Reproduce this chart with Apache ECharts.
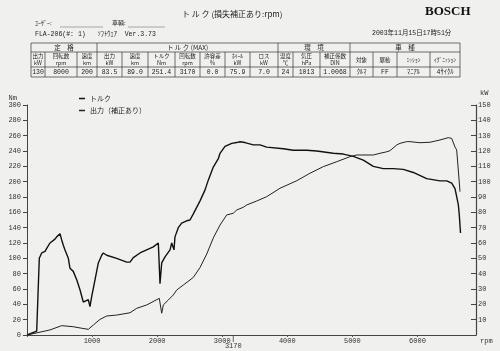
<!DOCTYPE html>
<html>
<head>
<meta charset="utf-8">
<script src="https://cdn.jsdelivr.net/npm/echarts@6/dist/echarts.min.js"></script>
<style>
    html, body { margin: 0; padding: 0; background: #f0f0ee; }
    #dynoChart { width: 500px; height: 351px; }
</style>
</head>
<body>
<div id="dynoChart"></div>
<script>
// torque curve (rpm / Nm)
const torqueRpm = [0, 149, 174, 189, 226, 277, 303, 353, 380, 430, 456, 481, 507, 533, 558, 584, 635, 661, 711, 764, 814, 865, 891, 942, 968, 994, 1045, 1096, 1148, 1172, 1225, 1378, 1532, 1583, 1634, 1737, 1813, 1941, 2018, 2044, 2070, 2121, 2198, 2224, 2259, 2274, 2325, 2377, 2454, 2505, 2556, 2659, 2735, 2786, 2863, 2940, 2966, 3043, 3146, 3222, 3273, 3350, 3478, 3581, 3683, 3939, 4092, 4298, 4452, 4707, 4861, 5014, 5168, 5322, 5475, 5629, 5783, 5936, 6142, 6347, 6450, 6527, 6577, 6592, 6628, 6643, 6662];
const torqueNm = [0, 5, 7, 100, 107, 109, 113, 120, 119, 125, 128, 130, 132, 124, 117, 111, 100, 87, 83, 72, 59, 43, 41, 46, 37, 50, 72, 94, 104, 107, 104, 100, 95, 95, 101, 107, 110, 115, 120, 67, 94, 102, 111, 120, 111, 128, 140, 146, 149, 150, 158, 175, 189, 202, 219, 230, 237, 246, 250, 251, 252, 251, 248, 248, 245, 243, 241, 241, 240, 237, 236, 233, 228, 220, 217, 217, 216, 212, 204, 201, 201, 198, 191, 185, 170, 157, 133];

// power curve, corrected (rpm / kW)
const powerRpm = [0, 353, 533, 558, 711, 841, 942, 968, 1019, 1122, 1225, 1378, 1583, 1686, 1840, 2033, 2070, 2095, 2171, 2248, 2300, 2402, 2505, 2556, 2659, 2762, 2863, 2966, 3069, 3170, 3222, 3324, 3376, 3530, 3683, 3888, 4145, 4349, 4554, 4759, 4963, 5067, 5322, 5425, 5528, 5578, 5681, 5732, 5835, 5886, 6039, 6193, 6347, 6474, 6527, 6554, 6577, 6603, 6628, 6654];
const powerKw = [0, 3.3, 6.1, 5.9, 5.4, 4.4, 3.7, 3.3, 6.5, 10.2, 12.4, 13.0, 14.5, 17.4, 19.6, 23.9, 14.2, 19.6, 22.8, 26.1, 29.3, 32.6, 35.9, 37.6, 44.0, 52.8, 63.3, 71.7, 78.3, 79.4, 81.5, 83.3, 84.8, 87.4, 90.2, 95.7, 100.6, 105.5, 109.8, 113.0, 116.3, 117.4, 117.4, 118.5, 119.5, 120.2, 123.9, 125.0, 126.1, 126.1, 125.4, 125.7, 127.2, 128.7, 128.2, 127.2, 122.6, 120.7, 107.6, 93.5];

const seriesNames = ["トルク", "出力（補正あり）"];
const maxTorqueRpm = 3170;

// header table
const groupNames = ["定　格", "ト ル ク (MAX)", "環　境", "車　種"];
const groupSpans = [3, 7, 3, 4];
const colHeads = ["出力\nkW", "回転数\nrpm", "速度\nkm", "出力\nkW", "速度\nkm", "トルク\nNm", "回転数\nrpm", "許容差\n%", "ﾎｲｰﾙ\nkW", "ロス\nkW", "温度\n℃", "気圧\nhPa", "補正係数\nDIN", "対象", "駆動", "ﾐｯｼｮﾝ", "ｲｸﾞﾆｯｼｮﾝ"];
const colValues = ["130", "8000", "200", "83.5", "89.0", "251.4", "3170", "0.0", "75.9", "7.0", "24", "1013", "1.0068", "ｸﾙﾏ", "FF", "ﾏﾆｱﾙ", "4ｻｲｸﾙ"];

const titleText = "ト ル ク (損失補正あり:rpm)";
const brandText = "BOSCH";
const dateText = "2003年11月15日17時51分";
const machineText = "FLA-206(#: 1)   ｿﾌﾄｳｪｱ  Ver.3.73";

const mono = "'Liberation Mono', 'Noto Sans CJK JP', monospace";
const jp = "'Noto Sans CJK JP', sans-serif";

const colEdges = [31, 45, 77, 97, 122, 148, 175, 200, 225, 250, 278, 293, 320, 350, 373, 397, 430, 460];
const rowEdges = [43, 52, 67, 77];

function buildHeader() {
    let els = [];
    let txt = (x, y, text, size, opts) => Object.assign({
        type: "text", x: x, y: y, silent: true,
        style: Object.assign({ text: text, fontSize: size, fontFamily: jp, fill: "#222", align: "left", verticalAlign: "middle" }, opts || {})
    });
    els.push(txt(182, 14, titleText, 8));
    els.push(txt(425, 12, brandText, 13, { fontFamily: "'Liberation Serif', serif", fontWeight: "bold", fill: "#111" }));
    els.push(txt(35, 23, "ﾕｰｻﾞｰ:", 6));
    els.push(txt(112, 23, "車輌:", 6));
    els.push({ type: "line", shape: { x1: 60, y1: 27, x2: 103, y2: 27 }, style: { stroke: "#777", lineWidth: 0.6 } });
    els.push({ type: "line", shape: { x1: 128, y1: 27, x2: 165, y2: 27 }, style: { stroke: "#777", lineWidth: 0.6 } });
    els.push(txt(35, 34, machineText, 6.5, { fontFamily: mono }));
    els.push(txt(372, 33, dateText, 6.5, { fontFamily: mono }));

    let left = colEdges[0], right = colEdges[colEdges.length - 1];
    let lineStyle = { stroke: "#333", lineWidth: 0.7 };
    rowEdges.forEach(y => {
        els.push({ type: "line", shape: { x1: left, y1: y, x2: right, y2: y }, style: lineStyle });
    });
    // group separators span full height, inner ones skip the top row
    let groupEdgeIdx = [0];
    groupSpans.reduce((acc, n) => { groupEdgeIdx.push(acc + n); return acc + n; }, 0);
    colEdges.forEach((x, i) => {
        let top = groupEdgeIdx.includes(i) ? rowEdges[0] : rowEdges[1];
        els.push({ type: "line", shape: { x1: x, y1: top, x2: x, y2: rowEdges[3] }, style: lineStyle });
    });
    groupNames.forEach((name, g) => {
        let x0 = colEdges[groupEdgeIdx[g]], x1 = colEdges[groupEdgeIdx[g + 1]];
        els.push(txt((x0 + x1) / 2, (rowEdges[0] + rowEdges[1]) / 2, name, 6.5, { align: "center" }));
    });
    colHeads.forEach((head, i) => {
        let cx = (colEdges[i] + colEdges[i + 1]) / 2;
        els.push(txt(cx, (rowEdges[1] + rowEdges[2]) / 2, head, 5.5, { align: "center", lineHeight: 7 }));
        els.push(txt(cx, (rowEdges[2] + rowEdges[3]) / 2, colValues[i], 6.5, { align: "center", fontFamily: mono }));
    });
    return els;
}

let myChart = echarts.init(document.getElementById("dynoChart"));
let axisText = { fontSize: 7, fontFamily: mono, color: "#333" };
let headerEls = buildHeader();

myChart.setOption({
    backgroundColor: "#f0f0ee",
    animation: false,
    grid: { left: 27, right: 24, top: 105, bottom: 16 },
    legend: {
        orient: "vertical",
        left: 74,
        top: 90,
        icon: "rect",
        itemWidth: 6,
        itemHeight: 1.5,
        itemGap: 5,
        data: seriesNames,
        textStyle: { fontSize: 7, fontFamily: jp, color: "#222" }
    },
    xAxis: {
        type: "value",
        min: 0,
        max: 6900,
        interval: 1000,
        name: "rpm",
        nameLocation: "end",
        nameGap: 4,
        nameTextStyle: Object.assign({}, axisText, { verticalAlign: "top", padding: [3, 0, 0, 0] }),
        axisLine: { lineStyle: { color: "#444", width: 1 } },
        axisTick: { show: true, length: 2, lineStyle: { color: "#555" } },
        splitLine: { show: false },
        axisLabel: Object.assign({}, axisText, {
            margin: 3,
            showMaxLabel: false,
            formatter: v => (v === 0 ? "" : String(v))
        })
    },
    yAxis: [
        {
            type: "value",
            min: 0,
            max: 300,
            interval: 20,
            name: "Nm",
            nameGap: 3,
            nameTextStyle: Object.assign({}, axisText, { align: "right", padding: [0, 10, 0, 0] }),
            axisLine: { show: true, lineStyle: { color: "#444", width: 1 } },
            axisTick: { show: true, length: 4, lineStyle: { color: "#444" } },
            splitLine: { show: false },
            axisLabel: Object.assign({}, axisText, { margin: 6 })
        },
        {
            type: "value",
            min: 0,
            max: 150,
            interval: 10,
            position: "right",
            name: "kW",
            nameGap: 8,
            nameTextStyle: Object.assign({}, axisText, { align: "left", padding: [0, 0, 0, 4] }),
            axisLine: { show: true, lineStyle: { color: "#444", width: 1.2 } },
            axisTick: { show: true, inside: true, length: 5, lineStyle: { color: "#444" } },
            splitLine: { show: false },
            axisLabel: Object.assign({}, axisText, {
                margin: 2,
                formatter: v => (v === 0 ? "" : String(v))
            })
        }
    ],
    series: [
        {
            name: seriesNames[0],
            type: "line",
            yAxisIndex: 0,
            showSymbol: false,
            data: torqueRpm.map((r, i) => [r, torqueNm[i]]),
            itemStyle: { color: "#111" },
            lineStyle: { color: "#111", width: 1.4 }
        },
        {
            name: seriesNames[1],
            type: "line",
            yAxisIndex: 1,
            showSymbol: false,
            data: powerRpm.map((r, i) => [r, powerKw[i]]),
            itemStyle: { color: "#222" },
            lineStyle: { color: "#222", width: 1 }
        }
    ],
    graphic: { elements: headerEls }
});

// mark of the max torque rpm under the axis
let mx = myChart.convertToPixel({ xAxisIndex: 0 }, maxTorqueRpm);
let my = myChart.convertToPixel({ yAxisIndex: 0 }, 0);
myChart.setOption({
    graphic: {
        elements: headerEls.concat([
            { type: "line", silent: true, shape: { x1: mx, y1: my, x2: mx, y2: my + 7 }, style: { stroke: "#444", lineWidth: 0.8 } },
            { type: "text", silent: true, x: mx, y: my + 11, style: { text: String(maxTorqueRpm), fontSize: 7, fontFamily: mono, fill: "#333", align: "center", verticalAlign: "middle" } }
        ])
    }
});
</script>
</body>
</html>
